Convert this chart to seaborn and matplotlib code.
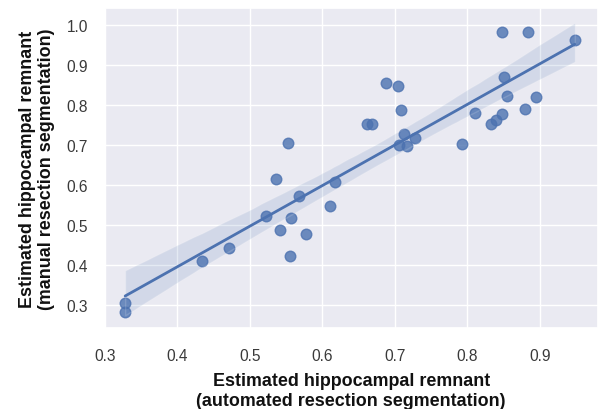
import numpy as np
import pandas as pd
import seaborn as sns
import matplotlib
matplotlib.use("Agg")
import matplotlib.pyplot as plt

automated = [0.328, 0.328, 0.434, 0.471, 0.522, 0.536, 0.542, 0.553, 0.555, 0.557,
             0.568, 0.578, 0.610, 0.617, 0.662, 0.668, 0.688, 0.704, 0.706, 0.708,
             0.713, 0.716, 0.727, 0.793, 0.810, 0.833, 0.839, 0.848, 0.848, 0.850,
             0.855, 0.880, 0.883, 0.895, 0.948]
manual = [0.304, 0.281, 0.410, 0.442, 0.522, 0.614, 0.488, 0.705, 0.421, 0.517,
          0.571, 0.477, 0.546, 0.608, 0.753, 0.753, 0.855, 0.848, 0.700, 0.788,
          0.728, 0.697, 0.716, 0.703, 0.780, 0.753, 0.763, 0.983, 0.778, 0.870,
          0.822, 0.790, 0.983, 0.819, 0.963]

xlabel = "Estimated hippocampal remnant\n(automated resection segmentation)"
ylabel = "Estimated hippocampal remnant\n(manual resection segmentation)"
xticks = [0.3, 0.4, 0.5, 0.6, 0.7, 0.8, 0.9]
yticks = [0.3, 0.4, 0.5, 0.6, 0.7, 0.8, 0.9, 1.0]

df = pd.DataFrame({"auto": automated, "manual": manual})

sns.set_theme(style="darkgrid")
plt.rcParams["font.family"] = ["Liberation Sans", "DejaVu Sans"]

fig = plt.figure(figsize=(5.98, 4.10), dpi=100)
ax = fig.add_axes([104.5 / 598, 1 - 329.3 / 410, (598 - 104.5) / 598, (329.3 - 9.3) / 410])
sns.regplot(data=df, x="auto", y="manual", ax=ax, seed=3,
            scatter_kws={"s": 58, "alpha": 0.8}, line_kws={"lw": 2})
ax.set_xlim(0.2995, 0.980)
ax.set_ylim(0.241, 1.0415)
ax.set_xticks(xticks)
ax.set_xticklabels([f"{t:.1f}" for t in xticks])
ax.set_yticks(yticks)
ax.set_yticklabels([f"{t:.1f}" for t in yticks])
ax.tick_params(axis="both", labelsize=11.2, colors="#3a3a3a")
ax.tick_params(axis="x", pad=8)
ax.tick_params(axis="y", pad=6)
ax.set_xlabel(xlabel, fontsize=12.9, fontweight="bold", color="#111111", labelpad=7)
ax.set_ylabel(ylabel, fontsize=12.9, fontweight="bold", color="#111111", labelpad=8)
fig.savefig("out.png", dpi=100)
